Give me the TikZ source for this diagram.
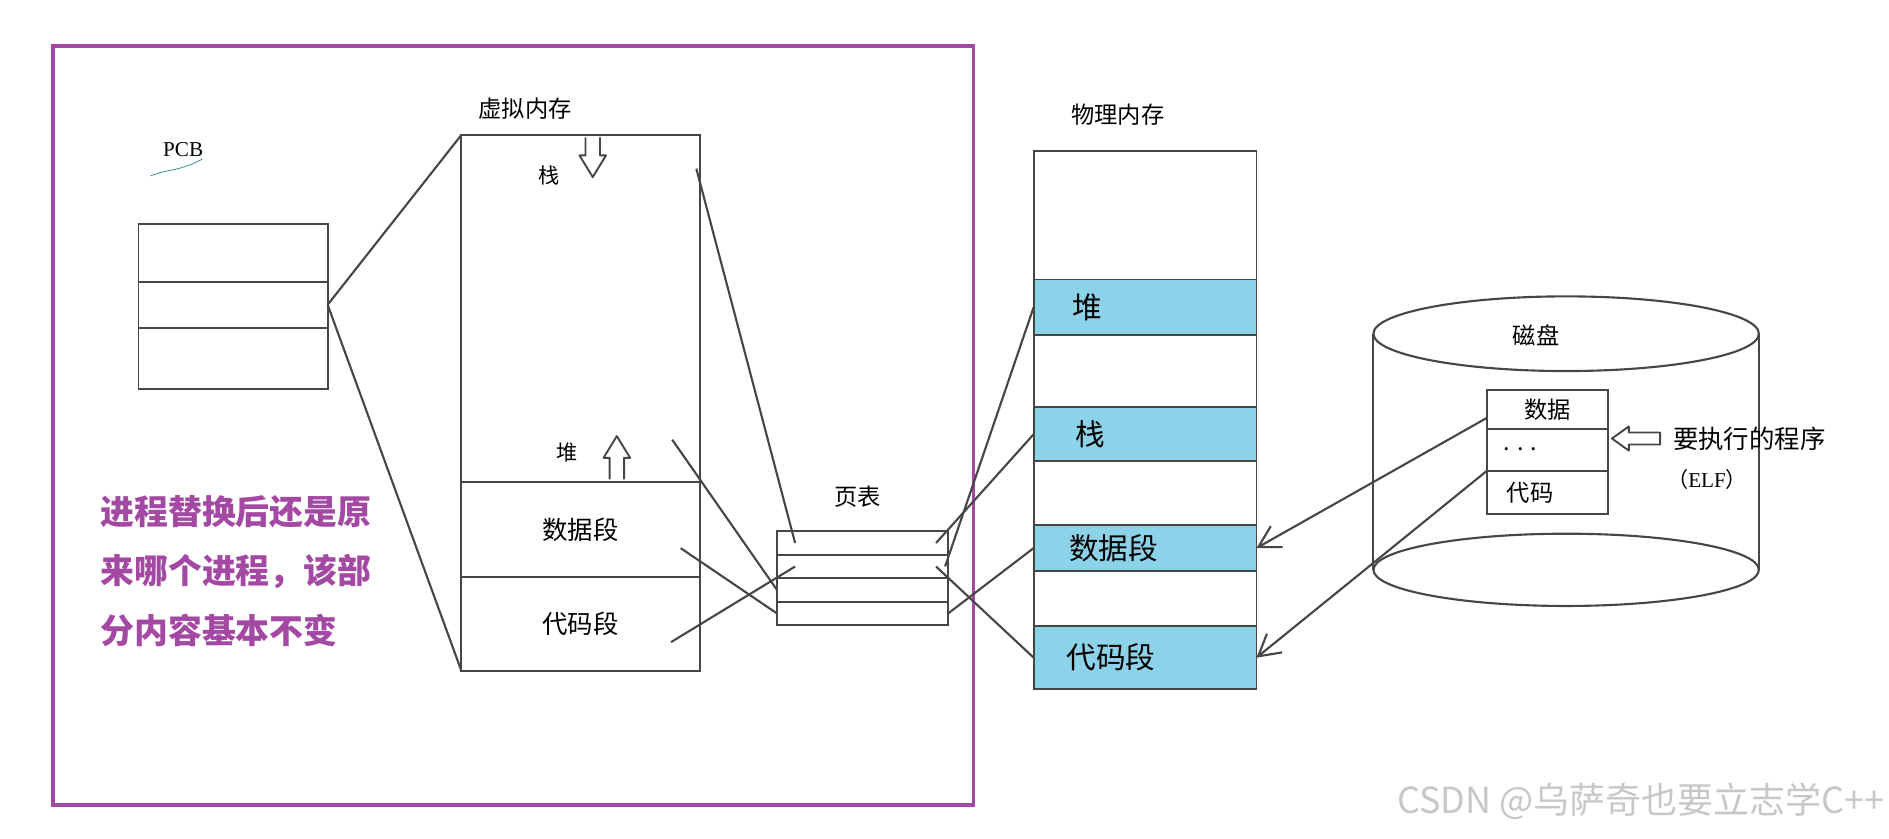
\documentclass[tikz,border=0pt]{standalone}
\usepackage{fontspec}
\setmainfont{Noto Sans CJK SC}
\newfontfamily\seriffont{Liberation Serif}
\usetikzlibrary{arrows.meta, positioning}
\definecolor{framepurple}{RGB}{163,73,164}
\definecolor{segblue}{RGB}{140,210,232}
\definecolor{inkgray}{RGB}{70,70,70}
\definecolor{scribble}{RGB}{60,150,150}

\begin{document}
\begin{tikzpicture}[
    x=0.02cm, y=-0.02cm,
    cell/.style={draw=inkgray, line width=0.9pt, inner sep=0pt, outer sep=0pt,
                 anchor=north west, font=\fontsize{12}{14}\selectfont},
    seg/.style={cell, minimum width=3.7cm},
    blueseg/.style={seg, fill=segblue},
    wire/.style={draw=inkgray, line width=1pt},
    load/.style={wire, -{Straight Barb[length=3.5mm, width=4mm]}},
    hollow/.style={draw=inkgray, line width=0.9pt, fill=white, line join=round},
    lbl/.style={inner sep=0pt, font=\fontsize{11}{13}\selectfont},
    seglbl/.style={lbl, anchor=west, font=\fontsize{14}{16}\selectfont}
]
\useasboundingbox (0,0) rectangle (1568,696);

% frame and note
\draw[framepurple, line width=1.7pt] (44,38) rectangle (808,668);
\node[lbl, anchor=west, align=left, text=framepurple,
      font=\fontsize{16}{28}\selectfont\bfseries] (note) at (83,474)
  {进程替换后还是原\\来哪个进程，该部\\分内容基本不变};

% PCB
\node[lbl, font=\seriffont\fontsize{10}{12}\selectfont] (pcbtitle) at (152,124) {PCB};
\draw[scribble, line width=0.4pt] (125,146) .. controls (140,140) and (150,142) .. (168,132);
\node[cell, minimum width=3.14cm, minimum height=0.96cm] (pcb1) at (115,186) {};
\node[cell, below=0pt of pcb1, minimum width=3.14cm, minimum height=0.76cm] (pcb2) {};
\node[cell, below=0pt of pcb2, minimum width=3.14cm, minimum height=1.02cm] (pcb3) {};

% virtual memory
\node[lbl] (vmtitle) at (436,90) {虚拟内存};
\node[cell, minimum width=3.96cm, minimum height=5.76cm] (vmtop) at (383,112) {};
\node[cell, below=0pt of vmtop, minimum width=3.96cm, minimum height=1.58cm] (vmdata) {数据段};
\node[cell, below=0pt of vmdata, minimum width=3.96cm, minimum height=1.56cm] (vmcode) {代码段};
\node[lbl, font=\fontsize{10}{12}\selectfont] (vmstack) at (456,146) {栈};
\node[lbl, font=\fontsize{10}{12}\selectfont] (vmheap) at (471,376) {堆};
\draw[hollow] (486,114) -- (486,129) -- (481,129) -- (492,147) -- (503,129) -- (498,129) -- (498,114);
\draw[hollow] (506,398) -- (506,380) -- (501,380) -- (512,362) -- (523,380) -- (518,380) -- (518,398);

\draw[wire] (pcb2.east) -- (vmtop.north west);
\draw[wire] (pcb2.east) -- (vmcode.south west);

% page table
\node[lbl] (pttitle) at (712,412) {页表};
\node[cell, minimum width=2.84cm, minimum height=0.39cm] (pt1) at (645,441) {};
\node[cell, below=0pt of pt1, minimum width=2.84cm, minimum height=0.39cm] (pt2) {};
\node[cell, below=0pt of pt2, minimum width=2.84cm, minimum height=0.39cm] (pt3) {};
\node[cell, below=0pt of pt3, minimum width=2.84cm, minimum height=0.39cm] (pt4) {};

\coordinate (vs1) at (578,140);
\coordinate (vs2) at (558,365);
\coordinate (vs3) at (565,455);
\coordinate (vs4) at (557,533);
\draw[wire] (vs1) -- ([xshift=0.3cm]pt1.west);
\draw[wire] (vs2) -- (pt3.west);
\draw[wire] (vs3) -- (pt4.west);
\draw[wire] (vs4) -- ([xshift=0.3cm]pt2.west);

% physical memory
\node[lbl] (pmtitle) at (928,95) {物理内存};
\node[seg, minimum height=2.14cm] (pmtop) at (858,125) {};
\node[blueseg, below=0pt of pmtop, minimum height=0.92cm] (pmheap) {};
\node[seg, below=0pt of pmheap, minimum height=1.2cm] (pmgap1) {};
\node[blueseg, below=0pt of pmgap1, minimum height=0.9cm] (pmstack) {};
\node[seg, below=0pt of pmstack, minimum height=1.06cm] (pmgap2) {};
\node[blueseg, below=0pt of pmgap2, minimum height=0.76cm] (pmdata) {};
\node[seg, below=0pt of pmdata, minimum height=0.92cm] (pmgap3) {};
\node[blueseg, below=0pt of pmgap3, minimum height=1.04cm] (pmcode) {};
\node[seglbl] (pmheaplbl) at ([xshift=0.64cm]pmheap.west) {堆};
\node[seglbl] (pmstacklbl) at ([xshift=0.68cm]pmstack.west) {栈};
\node[seglbl] (pmdatalbl) at ([xshift=0.58cm]pmdata.west) {数据段};
\node[seglbl] (pmcodelbl) at ([xshift=0.54cm]pmcode.west) {代码段};

\draw[wire] ([xshift=-0.2cm]pt1.east) -- (pmstack.west);
\draw[wire] ([xshift=-0.05cm]pt2.east) -- (pmheap.west);
\draw[wire] (pt4.east) -- (pmdata.west);
\draw[wire] ([xshift=-0.2cm]pt2.east) -- (pmcode.west);

% disk
\coordinate (disktop) at (1300,277);
\coordinate (diskbot) at (1300,473);
\draw[wire] (disktop) ellipse [x radius=3.2cm, y radius=0.62cm];
\draw[wire] (diskbot) ellipse [x radius=3.2cm, y radius=0.6cm];
\draw[wire] ([xshift=-3.2cm]disktop) -- ([xshift=-3.2cm]diskbot);
\draw[wire] ([xshift=3.2cm]disktop) -- ([xshift=3.2cm]diskbot);
\node[lbl] (disklbl) at (1275,278) {磁盘};
\node[cell, fill=white, minimum width=2.02cm, minimum height=0.64cm, font=\fontsize{11}{13}\selectfont] (dk1) at (1234,324) {数据};
\node[cell, fill=white, below=0pt of dk1, minimum width=2.02cm, minimum height=0.7cm] (dk2) {};
\node[cell, fill=white, below=0pt of dk2, minimum width=2.02cm, minimum height=0.72cm] (dk3) {};
\node[lbl] (dkdots) at (1262,373) {. . .};
\node[lbl] (dkcode) at (1270,409) {代码};
\draw[hollow] (1338,364) -- (1352,354) -- (1352,359) -- (1378,359) -- (1378,369) -- (1352,369) -- (1352,374) -- cycle;
\node[lbl, font=\fontsize{12}{14}\selectfont] (exelbl) at (1452,364) {要执行的程序};
\node[lbl, font=\fontsize{10}{12}\selectfont] (elflbl) at (1417,398) {（{\seriffont ELF}）};

\draw[load] ([yshift=-0.14cm]dk1.west) -- (pmdata.east);
\draw[load] (dk3.north west) -- (pmcode.east);

% watermark
\node[lbl, text=black!22, font=\fontsize{17}{19}\selectfont] (mark) at (1362,665) {CSDN @乌萨奇也要立志学C++};
\end{tikzpicture}
\end{document}
